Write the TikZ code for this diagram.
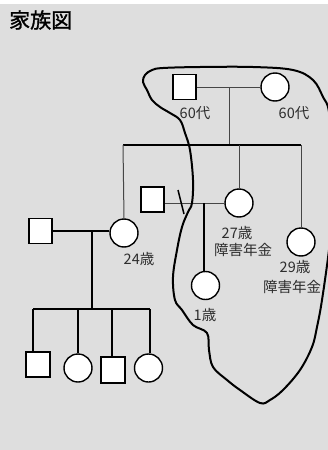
\documentclass[tikz,border=0pt]{standalone}
\usepackage{fontspec}
\newfontfamily\jp{Noto Sans CJK JP}
\newfontfamily\jpt[FakeBold=1.2]{Noto Sans CJK JP}
\definecolor{bg}{RGB}{222,222,222}
\definecolor{lbl}{RGB}{45,45,45}
\definecolor{thin}{RGB}{70,70,70}
\begin{document}
\begin{tikzpicture}[x=1pt,y=-1pt,
  male/.style={draw=black,fill=white,line width=1.4pt,minimum width=23pt,minimum height=25pt,inner sep=0pt},
  female/.style={draw=black,fill=white,line width=1.4pt,circle,minimum size=28pt,inner sep=0pt},
  lab/.style={font=\jp\fontsize{14.5}{16}\selectfont,text=lbl,inner sep=0pt},
  thinline/.style={draw=thin,line width=1pt},
  thickline/.style={draw=black,line width=1.5pt},
  outline/.style={draw=black,line width=2pt,line join=round}]
\useasboundingbox (0,0) rectangle (328,450);
\fill[bg] (0,0) rectangle (328,450);
\fill[white] (0,0) rectangle (328,4);
\node[font=\jpt\fontsize{21}{23}\selectfont,anchor=west,inner sep=0pt] (title) at (9,20) {家族図};
% grandparents
\node[male] (gf) at (184.5,87) {};
\node[female] (gm) at (275,87) {};
\draw[thinline] (gf.east) -- (gm.west);
\coordinate (gpm) at (229,87);
\coordinate (sibL) at (123,145);
\coordinate (sibR) at (301,145);
\coordinate (sibM) at (229,145);
\draw[thinline] (gpm) -- (sibM);
\draw[thickline] (sibL) -- (sibR);
% siblings
\node[female] (d24) at (124,233) {};
\node[female] (d27) at (239,203) {};
\node[female] (d29) at (301,242) {};
\draw[thinline] (sibL) -- (d24.north);
\coordinate (s27) at (239,145);
\draw[thinline] (s27) -- (d27.north);
\draw[thinline] (sibR) -- (d29.north);
% 27's family
\node[male] (h27) at (152.5,199.5) {};
\draw[thinline] (h27.east |- d27.west) -- (d27.west);
\coordinate (dvA) at (178,190);
\coordinate (dvB) at (184,214);
\draw[thickline] (dvA) -- (dvB);
\node[female] (k1) at (205.5,285.5) {};
\coordinate (k1top) at (204,203);
\draw[thickline] (k1top) -- (k1top |- k1.north);
% 24's family
\node[male] (h24) at (40.5,231) {};
\draw[thickline] (h24.east) -- (h24.east -| d24.west);
\coordinate (m24) at (92,231);
\coordinate (bar) at (92,309);
\draw[thickline] (m24) -- (bar);
\coordinate (barL) at (33,309);
\coordinate (barR) at (150,309);
\draw[thickline] (barL) -- (barR);
\node[male,minimum width=24pt] (g1) at (38,364.5) {};
\node[female] (g2) at (78,368) {};
\node[male,minimum width=24pt,minimum height=26pt] (g3) at (113,370) {};
\node[female] (g4) at (148.5,368) {};
\draw[thickline] (barL) -- (barL |- g1.north);
\draw[thickline] (78,309) coordinate (b2) -- (g2.north);
\draw[thickline] (112,309) coordinate (b3) -- (b3 |- g3.north);
\draw[thickline] (barR) -- (barR |- g4.north);
% labels
\node[lab] (l60a) at (195,113) {60代};
\node[lab] (l60b) at (294,113) {60代};
\node[lab] (l24) at (139,259) {24歳};
\node[lab] (l27) at (237,233) {27歳};
\node[lab] (l27b) at (243,250) {障害年金};
\node[lab] (l29) at (295,267) {29歳};
\node[lab] (l29b) at (292,287) {障害年金};
\node[lab] (l1) at (205,315) {1歳};
% freehand outline
\draw[outline] plot[smooth cycle,tension=0.6] coordinates {
 (163,68) (200,67) (253,67) (293,70) (313,80) (323,97) (329,112)
 (333,160) (333,210) (329,250) (322,300) (317,327) (312,347) (300,370)
 (283,390) (270,400) (260,403) (240,390) (227,380) (213,367) (209,350)
 (207,333) (193,325) (182,310) (175,300) (173,277) (177,250) (182,227)
 (188,212) (192,203) (193,180) (190,150) (185,133) (180,120) (170,113)
 (160,107) (152,100) (147,90) (143,82) (145,75) (152,70)};
\end{tikzpicture}
\end{document}
